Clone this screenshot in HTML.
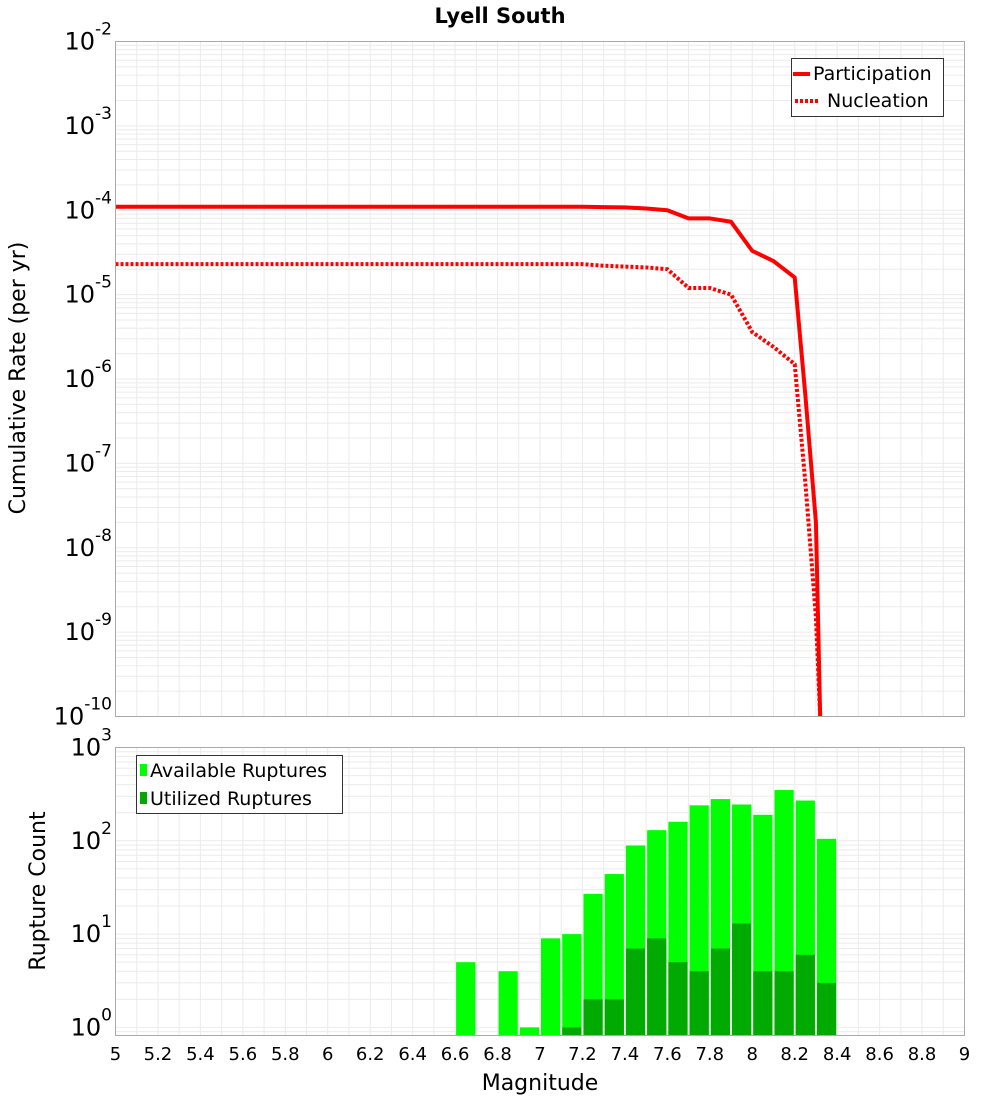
<!DOCTYPE html>
<html><head><meta charset="utf-8"><style>
html,body{margin:0;padding:0;background:#fff;}
svg{display:block;font-family:"DejaVu Sans","Liberation Sans",sans-serif;}
</style></head><body>
<svg id="chart" width="1000" height="1100" viewBox="0 0 1000 1100">
<text x="500" y="23" text-anchor="middle" font-size="21" font-weight="bold">Lyell South</text>
<g id="grid1"></g>
<g id="grid2"></g>
<g id="bars"></g>
<g id="lines"></g>
<rect x="115.5" y="41.5" width="849" height="675" fill="none" stroke="#aaa"/>
<rect x="115.5" y="747.5" width="849" height="288" fill="none" stroke="#aaa"/>
<g id="labels"></g>
<text transform="translate(25,378) rotate(-90)" text-anchor="middle" font-size="22">Cumulative Rate (per yr)</text>
<text transform="translate(45,891) rotate(-90)" text-anchor="middle" font-size="22">Rupture Count</text>
<text x="540" y="1090" text-anchor="middle" font-size="22">Magnitude</text>
<g>
<rect x="791.5" y="58.5" width="152" height="58" fill="#fff" stroke="#333"/>
<line x1="793" y1="74" x2="810" y2="74" stroke="red" stroke-width="4"/>
<text x="813" y="80" font-size="19">Participation</text>
<line x1="795" y1="101" x2="819" y2="101" stroke="red" stroke-width="4" stroke-dasharray="3,2"/>
<text x="827" y="107" font-size="19">Nucleation</text>
</g>
<g>
<rect x="136.5" y="755.5" width="206" height="58" fill="#fff" stroke="#333"/>
<rect x="140" y="764" width="7" height="12" fill="#00ff00"/>
<text x="150" y="777" font-size="19">Available Ruptures</text>
<rect x="140" y="792" width="7" height="12" fill="#00aa00"/>
<text x="150" y="805" font-size="19">Utilized Ruptures</text>
</g>
</svg>
<script>
const mags = [5.0,7.2,7.3,7.4,7.5,7.6,7.7,7.8,7.9,8.0,8.1,8.2,8.25,8.3,8.32];
const participation = [1.1e-4,1.1e-4,1.09e-4,1.08e-4,1.05e-4,1.0e-4,8e-5,8e-5,7.3e-5,3.3e-5,2.5e-5,1.6e-5,6.5e-7,2e-8,1e-10];
const nucleation = [2.3e-5,2.3e-5,2.2e-5,2.15e-5,2.1e-5,2.0e-5,1.2e-5,1.2e-5,1.0e-5,3.6e-6,2.4e-6,1.5e-6,6e-8,1.5e-9,1e-10];
const binStarts = [6.6,6.8,6.9,7.0,7.1,7.2,7.3,7.4,7.5,7.6,7.7,7.8,7.9,8.0,8.1,8.2,8.3];
const available = [5,4,1,9,10,27,44,89,130,160,240,280,245,190,350,270,105];
const utilized = [0,0,0,0,1,2,2,7,9,5,4,7,13,4,4,6,3];
const xTicks = ["5","5.2","5.4","5.6","5.8","6","6.2","6.4","6.6","6.8","7","7.2","7.4","7.6","7.8","8","8.2","8.4","8.6","8.8","9"];
const topExps = [-2,-3,-4,-5,-6,-7,-8,-9,-10];
const botExps = [3,2,1,0];

const NS="http://www.w3.org/2000/svg";
const X0=115.5,X1=964.5;
const x=m=>X0+(m-5)/4*(X1-X0);
const yTop=v=>41.5+(-2-Math.log10(v))*(675/8);
const yBot=v=>747.5+(3-Math.log10(v))*93.3;
function mk(tag,attrs,parent){const e=document.createElementNS(NS,tag);for(const k in attrs)e.setAttribute(k,attrs[k]);parent.appendChild(e);return e;}
const g1=document.getElementById('grid1'),g2=document.getElementById('grid2'),lab=document.getElementById('labels');
// vertical grid
for(let i=0;i<=40;i++){const m=5+i*0.1,xx=x(m);
 mk('line',{x1:xx,x2:xx,y1:41.5,y2:716.5,stroke:'#ebebeb'},g1);
 mk('line',{x1:xx,x2:xx,y1:747.5,y2:1035.5,stroke:'#ebebeb'},g2);}
// horizontal log grid top
for(let e=-10;e<-2;e++)for(let k=1;k<10;k++){const yy=yTop(k*Math.pow(10,e));
 mk('line',{x1:X0,x2:X1,y1:yy,y2:yy,stroke:'#ebebeb'},g1);}
for(let e=-1;e<3;e++)for(let k=1;k<10;k++){const yy=yBot(k*Math.pow(10,e));
 if(yy>1035.5||yy<747.5)continue;
 mk('line',{x1:X0,x2:X1,y1:yy,y2:yy,stroke:'#ebebeb'},g2);}
// bars
const gb=document.getElementById('bars');
const base=1035.5;
binStarts.forEach((m,i)=>{
 const a=mk('rect',{x:x(m)+1,y:yBot(available[i]),width:x(m+0.1)-x(m)-2,height:base-yBot(available[i]),fill:'#00ff00'},gb);
 
 
 if(utilized[i]>0){
 const u=mk('rect',{x:x(m)+1,y:yBot(utilized[i]),width:x(m+0.1)-x(m)-2,height:base-yBot(utilized[i]),fill:'#00aa00'},gb);
 
 }
});
// lines
const gl=document.getElementById('lines');
const clip=v=>Math.min(yTop(v),716.5);
const p1=mk('polyline',{points:mags.map((m,i)=>x(m)+','+clip(participation[i])).join(' '),fill:'none',stroke:'red','stroke-width':4,'stroke-linejoin':'round'},gl);


const p2=mk('polyline',{points:mags.map((m,i)=>x(m)+','+clip(nucleation[i])).join(' '),fill:'none',stroke:'red','stroke-width':4,'stroke-dasharray':'3,2'},gl);


// labels
xTicks.forEach(t=>{const e=mk('text',{x:x(parseFloat(t)),y:1060,'text-anchor':'middle','font-size':18},lab);e.textContent=t;
 
 });
function expLabel(ex,yy,name){const t=mk('text',{x:112,y:yy+8,'text-anchor':'end','font-size':24},lab);
 const a=document.createElementNS(NS,'tspan');a.textContent='10';t.appendChild(a);
 const b=document.createElementNS(NS,'tspan');b.setAttribute('dy','-15');b.setAttribute('font-size','17');b.textContent=String(ex);t.appendChild(b);
 
 }
topExps.forEach(ex=>expLabel(ex,yTop(Math.pow(10,ex)),'top-y-tick-'+ex));
botExps.forEach(ex=>expLabel(ex,yBot(Math.pow(10,ex)),'bottom-y-tick-'+ex));
</script>
</body></html>
